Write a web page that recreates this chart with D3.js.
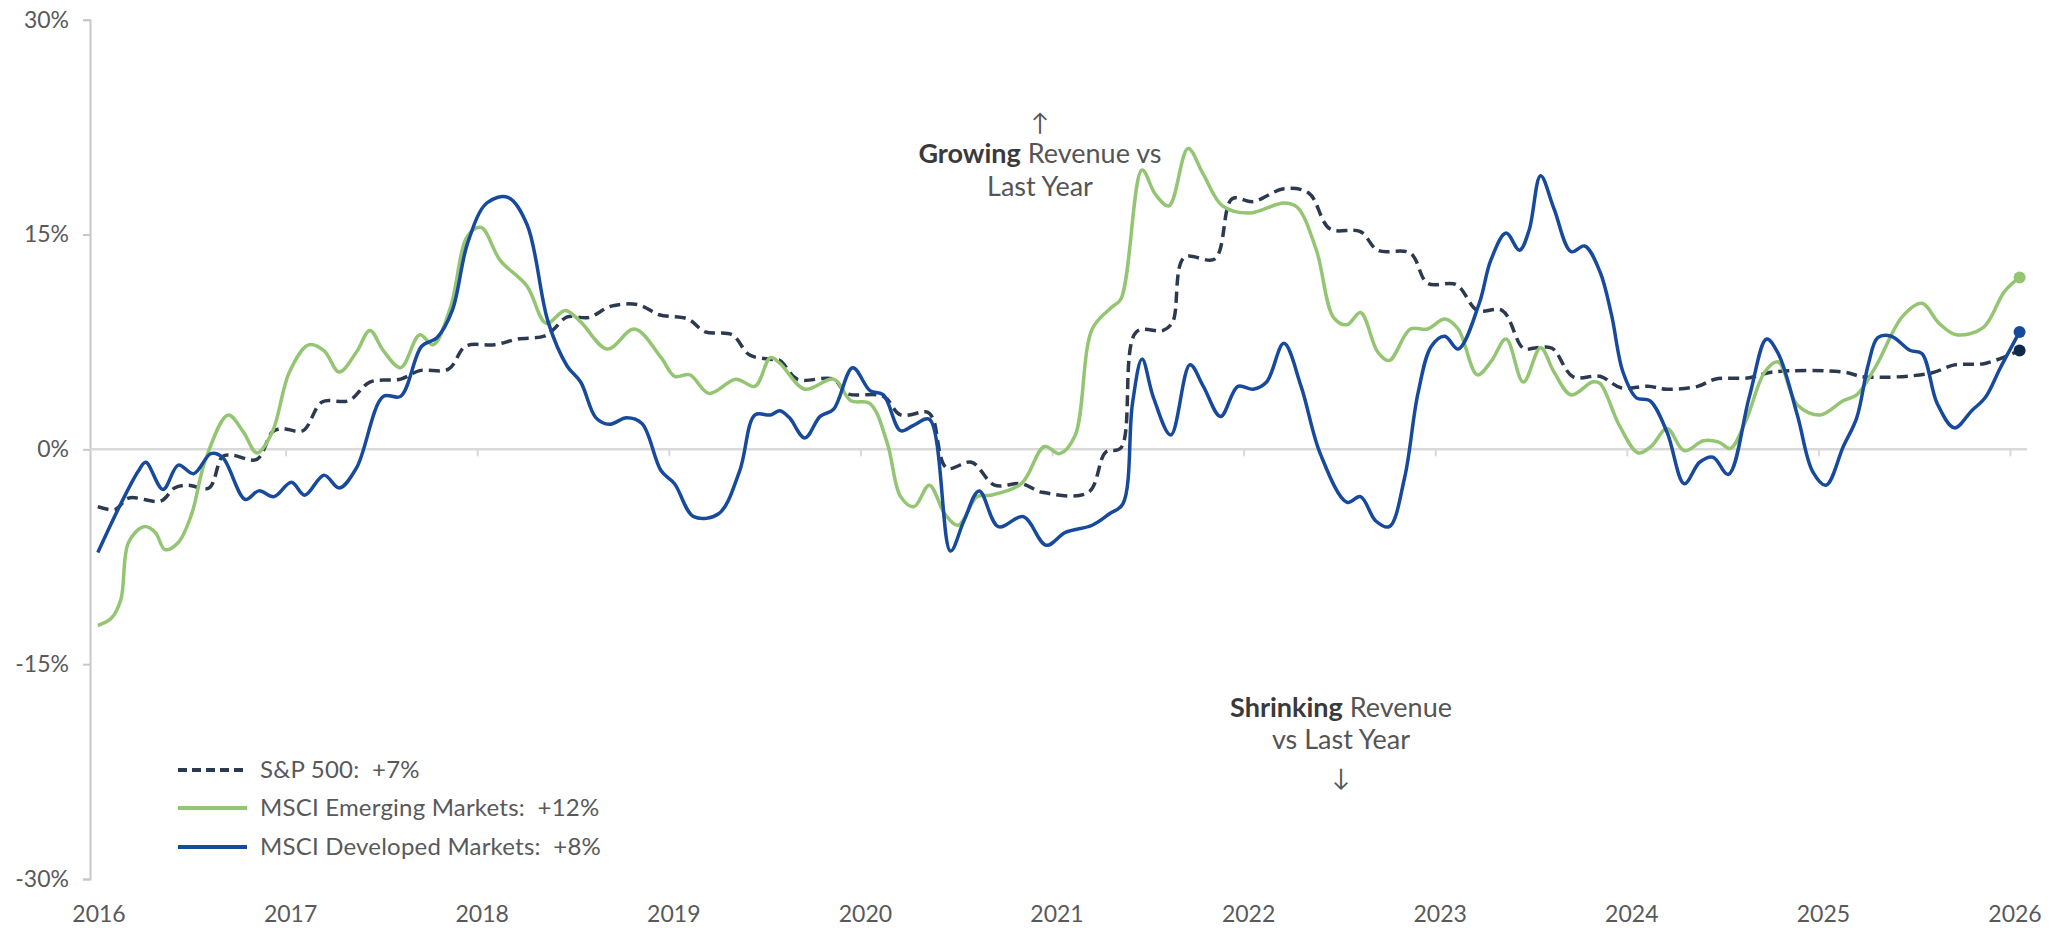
<!DOCTYPE html>
<html>
<head>
<meta charset="utf-8">
<script src="https://cdn.jsdelivr.net/npm/d3@7"></script>
<style>
  html, body { margin: 0; padding: 0; background: #ffffff; }
  svg { display: block; }
</style>
</head>
<body>
<svg id="chart" width="2066" height="928"></svg>
<script>
// ---------- DATA ----------
const yearTicks = [2016, 2017, 2018, 2019, 2020, 2021, 2022, 2023, 2024, 2025, 2026];
const valueTicks = [-30, -15, 0, 15, 30];

const seriesNames = ["S&P 500:  +7%", "MSCI Emerging Markets:  +12%", "MSCI Developed Markets:  +8%"];

const spxYears = [2016.02, 2016.11, 2016.18, 2016.35, 2016.42, 2016.49, 2016.60, 2016.67, 2016.72, 2016.85, 2016.93, 2016.98, 2017.09, 2017.19, 2017.33, 2017.44, 2017.60, 2017.70, 2017.85, 2017.94, 2018.09, 2018.21, 2018.35, 2018.40, 2018.47, 2018.58, 2018.70, 2018.84, 2018.95, 2019.10, 2019.19, 2019.33, 2019.42, 2019.52, 2019.58, 2019.67, 2019.86, 2019.93, 2020.12, 2020.21, 2020.35, 2020.38, 2020.45, 2020.58, 2020.70, 2020.84, 2020.95, 2021.19, 2021.28, 2021.36, 2021.44, 2021.58, 2021.63, 2021.69, 2021.85, 2021.94, 2022.05, 2022.21, 2022.34, 2022.45, 2022.61, 2022.70, 2022.87, 2022.96, 2023.11, 2023.22, 2023.35, 2023.46, 2023.53, 2023.61, 2023.72, 2023.86, 2023.97, 2024.11, 2024.21, 2024.37, 2024.46, 2024.64, 2024.76, 2025.13, 2025.24, 2025.58, 2025.71, 2025.87, 2026.05];
const spxValues = [-4.0, -4.2, -3.4, -3.6, -2.7, -2.5, -2.7, -0.5, -0.4, -0.7, 1.2, 1.45, 1.3, 3.3, 3.4, 4.7, 4.9, 5.5, 5.6, 7.2, 7.3, 7.7, 7.9, 8.4, 9.25, 9.2, 10.0, 10.1, 9.4, 9.1, 8.2, 8.0, 6.6, 6.3, 6.2, 4.9, 4.9, 3.9, 3.7, 2.4, 2.6, 2.1, -1.3, -0.9, -2.5, -2.4, -3.0, -3.0, -0.2, 0.1, 8.2, 8.3, 8.9, 13.4, 13.3, 17.5, 17.3, 18.2, 17.9, 15.4, 15.2, 13.9, 13.7, 11.6, 11.5, 9.7, 9.7, 7.06, 7.1, 7.06, 5.06, 5.1, 4.3, 4.4, 4.2, 4.4, 4.9, 5.0, 5.4, 5.4, 5.06, 5.3, 5.9, 6.0, 6.9];

const emYears = [2016.02, 2016.09, 2016.14, 2016.18, 2016.26, 2016.32, 2016.37, 2016.44, 2016.51, 2016.58, 2016.70, 2016.78, 2016.85, 2016.93, 2017.02, 2017.12, 2017.20, 2017.28, 2017.37, 2017.44, 2017.51, 2017.60, 2017.70, 2017.77, 2017.86, 2017.95, 2018.02, 2018.12, 2018.26, 2018.36, 2018.46, 2018.54, 2018.68, 2018.82, 2018.96, 2019.03, 2019.11, 2019.21, 2019.35, 2019.45, 2019.53, 2019.58, 2019.71, 2019.86, 2019.95, 2020.05, 2020.14, 2020.21, 2020.28, 2020.36, 2020.44, 2020.51, 2020.61, 2020.68, 2020.84, 2020.96, 2021.04, 2021.12, 2021.21, 2021.31, 2021.36, 2021.47, 2021.54, 2021.61, 2021.71, 2021.79, 2021.89, 2022.03, 2022.21, 2022.28, 2022.38, 2022.47, 2022.54, 2022.61, 2022.70, 2022.76, 2022.87, 2022.96, 2023.05, 2023.12, 2023.22, 2023.29, 2023.37, 2023.46, 2023.55, 2023.62, 2023.71, 2023.82, 2023.86, 2023.96, 2024.06, 2024.13, 2024.21, 2024.30, 2024.40, 2024.48, 2024.54, 2024.62, 2024.72, 2024.79, 2024.89, 2025.01, 2025.13, 2025.20, 2025.30, 2025.44, 2025.54, 2025.63, 2025.72, 2025.86, 2025.97, 2026.05];
const emValues = [-12.3, -11.8, -10.5, -6.5, -5.4, -5.8, -7.0, -6.5, -4.5, -0.8, 2.4, 1.2, -0.25, 1.2, 5.4, 7.3, 6.9, 5.4, 6.8, 8.3, 6.9, 5.7, 8.0, 7.3, 9.9, 14.9, 15.5, 13.2, 11.4, 8.8, 9.7, 8.9, 7.0, 8.4, 6.4, 5.1, 5.2, 3.9, 4.9, 4.4, 6.4, 6.0, 4.2, 4.9, 3.4, 3.2, 0.45, -3.3, -4.0, -2.5, -4.5, -5.3, -3.3, -3.2, -2.4, 0.2, -0.3, 0.95, 8.4, 9.9, 10.5, 19.5, 17.8, 17.0, 21.0, 19.2, 17.0, 16.5, 17.2, 16.9, 13.9, 9.2, 8.7, 9.55, 6.8, 6.2, 8.4, 8.4, 9.1, 8.4, 5.2, 6.1, 7.7, 4.7, 7.1, 5.4, 3.8, 4.7, 4.6, 1.7, -0.25, 0.25, 1.45, -0.1, 0.6, 0.5, 0.07, 1.95, 5.4, 6.1, 3.1, 2.4, 3.4, 3.8, 5.8, 9.3, 10.2, 8.8, 8.0, 8.5, 11.0, 12.0];

const dmYears = [2016.02, 2016.14, 2016.23, 2016.27, 2016.36, 2016.44, 2016.52, 2016.61, 2016.67, 2016.79, 2016.86, 2016.94, 2017.03, 2017.10, 2017.20, 2017.28, 2017.37, 2017.51, 2017.60, 2017.71, 2017.79, 2017.87, 2017.95, 2018.05, 2018.16, 2018.26, 2018.37, 2018.47, 2018.54, 2018.62, 2018.69, 2018.78, 2018.86, 2018.96, 2019.03, 2019.13, 2019.26, 2019.37, 2019.45, 2019.53, 2019.58, 2019.63, 2019.71, 2019.79, 2019.86, 2019.96, 2020.05, 2020.12, 2020.21, 2020.28, 2020.36, 2020.47, 2020.54, 2020.62, 2020.72, 2020.85, 2020.97, 2021.07, 2021.21, 2021.30, 2021.37, 2021.42, 2021.47, 2021.53, 2021.62, 2021.72, 2021.79, 2021.88, 2021.97, 2022.05, 2022.12, 2022.21, 2022.30, 2022.40, 2022.54, 2022.61, 2022.69, 2022.76, 2022.84, 2022.91, 2022.98, 2023.05, 2023.12, 2023.23, 2023.29, 2023.37, 2023.44, 2023.49, 2023.55, 2023.62, 2023.71, 2023.78, 2023.86, 2023.92, 2023.98, 2024.05, 2024.12, 2024.21, 2024.30, 2024.38, 2024.45, 2024.53, 2024.64, 2024.73, 2024.79, 2024.89, 2024.97, 2025.04, 2025.13, 2025.20, 2025.26, 2025.31, 2025.38, 2025.48, 2025.54, 2025.62, 2025.71, 2025.80, 2025.87, 2025.95, 2026.05];
const dmValues = [-7.2, -3.8, -1.55, -0.9, -2.8, -1.1, -1.7, -0.3, -0.55, -3.5, -2.9, -3.3, -2.3, -3.2, -1.8, -2.7, -1.3, 3.7, 3.7, 7.2, 7.8, 9.7, 14.4, 17.2, 17.6, 15.7, 8.9, 5.8, 4.7, 2.2, 1.75, 2.2, 1.8, -1.5, -2.4, -4.7, -4.5, -1.5, 2.4, 2.4, 2.7, 2.2, 0.8, 2.3, 2.8, 5.7, 4.1, 3.8, 1.3, 1.7, 2.1, -7.1, -5.0, -2.9, -5.4, -4.7, -6.7, -5.8, -5.3, -4.5, -3.8, 3.2, 6.3, 3.6, 1.0, 5.9, 4.4, 2.3, 4.4, 4.2, 4.7, 7.4, 4.4, -0.3, -3.7, -3.3, -5.0, -5.4, -2.0, 3.9, 7.2, 7.9, 7.0, 10.2, 13.2, 15.1, 13.9, 15.3, 19.1, 16.8, 13.8, 14.2, 12.4, 9.4, 5.4, 3.6, 3.4, 1.2, -2.4, -0.9, -0.55, -1.75, 3.7, 7.7, 6.7, 2.4, -1.55, -2.5, 0.2, 2.2, 5.9, 7.8, 7.9, 6.9, 6.7, 3.2, 1.5, 2.7, 3.6, 5.7, 8.2];

// ---------- STYLES ----------
const colSpx = "#2c3a50";
const colSpxDot = "#10284a";
const colEm = "#93c572";
const colDm = "#174a9c";
const textCol = "#595959";
const font = "Lato, 'Open Sans', sans-serif";

// ---------- SCALES ----------
const svg = d3.select("#chart");
svg.append("rect").attr("width", 2066).attr("height", 928).attr("fill", "#fff");

const x = d3.scaleLinear().domain([2016, 2026]).range([94, 2010]);
const y = d3.scaleLinear().domain([-30, 30]).range([879, 19.7]);
const axisX = 90;

// y axis
const yAxis = d3.axisLeft(y).tickValues(valueTicks).tickSize(7).tickPadding(14)
  .tickFormat(d => d + "%");
const gy = svg.append("g").attr("transform", `translate(${axisX},0)`).call(yAxis);
gy.select(".domain").attr("stroke", "#c8c8c8").attr("stroke-width", 2);
gy.selectAll(".tick line").attr("stroke", "#c8c8c8").attr("stroke-width", 2);
gy.selectAll(".tick text").attr("font-family", font).attr("font-size", 23)
  .attr("fill", textCol);

// zero line
svg.append("line").attr("x1", axisX).attr("x2", 2027)
  .attr("y1", y(0)).attr("y2", y(0)).attr("stroke", "#d9d9d9").attr("stroke-width", 2.5);

// x ticks on zero line
const xAxis = d3.axisBottom(x).tickValues(yearTicks.slice(1)).tickSize(7).tickFormat("");
const gx = svg.append("g").attr("transform", `translate(0,${y(0)})`).call(xAxis);
gx.select(".domain").remove();
gx.selectAll(".tick line").attr("stroke", "#d9d9d9").attr("stroke-width", 2);

// x labels at bottom
svg.append("g").selectAll("text").data(yearTicks).join("text")
  .attr("x", d => x(d) + 5).attr("y", 922)
  .attr("text-anchor", "middle")
  .attr("font-family", font).attr("font-size", 23).attr("fill", textCol)
  .text(d => d);

// ---------- LINES ----------
const line = d3.line().x(d => x(d[0])).y(d => y(d[1])).curve(d3.curveCatmullRom.alpha(0.5));
const zip = (a, b) => a.map((v, i) => [v, b[i]]);
const spx = zip(spxYears, spxValues);
const em = zip(emYears, emValues);
const dm = zip(dmYears, dmValues);

svg.append("path").datum(spx).attr("d", line).attr("fill", "none")
  .attr("stroke", colSpx).attr("stroke-width", 3.5).attr("stroke-dasharray", "11,6");
svg.append("path").datum(em).attr("d", line).attr("fill", "none")
  .attr("stroke", colEm).attr("stroke-width", 3.5);
svg.append("path").datum(dm).attr("d", line).attr("fill", "none")
  .attr("stroke", colDm).attr("stroke-width", 3.5);

// end dots
const ends = [[em[em.length - 1], colEm], [spx[spx.length - 1], colSpxDot], [dm[dm.length - 1], colDm]];
svg.append("g").selectAll("circle").data(ends).join("circle")
  .attr("cx", d => x(d[0][0])).attr("cy", d => y(d[0][1])).attr("r", 6)
  .attr("fill", d => d[1]);

// ---------- LEGEND ----------
const legendCols = [colSpx, colEm, colDm];
const legendDash = ["9,5", null, null];
const legendY = [770, 808, 847];
const lg = svg.append("g");
seriesNames.forEach((name, i) => {
  lg.append("line").attr("x1", 178).attr("x2", 247).attr("y1", legendY[i]).attr("y2", legendY[i])
    .attr("stroke", legendCols[i]).attr("stroke-width", 4)
    .attr("stroke-dasharray", legendDash[i]);
  lg.append("text").attr("x", 260).attr("y", legendY[i]).attr("dy", "0.35em")
    .attr("font-family", font).attr("font-size", 24).attr("letter-spacing", 0.2)
    .attr("fill", textCol)
    .style("white-space", "pre").text(name);
});

// ---------- ANNOTATIONS ----------
function annot(cx, lines, arrow, arrowY) {
  const g = svg.append("g").attr("font-family", font).attr("font-size", 27)
    .attr("text-anchor", "middle").attr("fill", "#4a4a4a");
  lines.forEach(l => {
    const t = g.append("text").attr("x", cx).attr("y", l.y);
    l.parts.forEach(p => t.append("tspan").attr("font-weight", p.b ? 700 : 400)
      .attr("fill", p.b ? "#3a3a3a" : "#555555").text(p.t));
  });
  g.append("text").attr("x", cx).attr("y", arrowY).attr("font-size", 24)
    .attr("fill", "#555555").text(arrow);
}
annot(1040, [
  { y: 163, parts: [{ t: "Growing", b: true }, { t: " Revenue vs" }] },
  { y: 196, parts: [{ t: "Last Year" }] }
], "↑", 131);
annot(1341, [
  { y: 717, parts: [{ t: "Shrinking", b: true }, { t: " Revenue" }] },
  { y: 749, parts: [{ t: "vs Last Year" }] }
], "↓", 786);
</script>
</body>
</html>
